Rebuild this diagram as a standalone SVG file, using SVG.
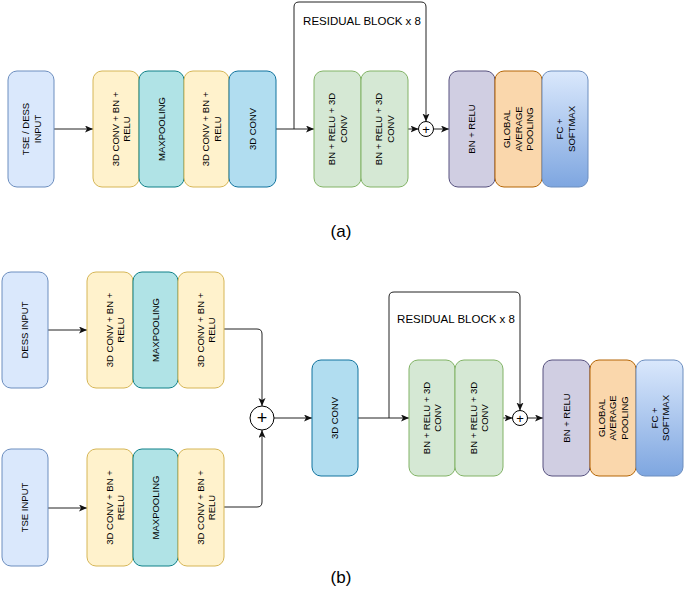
<svg xmlns="http://www.w3.org/2000/svg" width="685" height="590" viewBox="0 0 685 590">
<style>
.t{font-family:"Liberation Sans",Arial,sans-serif;font-size:9.5px;fill:#000;text-anchor:middle}
.lbl{font-family:"Liberation Sans",Arial,sans-serif;fill:#000}
.c{fill:none;stroke:#222;stroke-width:1}
.in{fill:#dae8fc;stroke:#6c8ebf}
.y{fill:#fff2cc;stroke:#d6b656}
.mp{fill:#b0e3e6;stroke:#0e8088}
.cv{fill:#b1ddf0;stroke:#10739e}
.g{fill:#d5e8d4;stroke:#82b366}
.p{fill:#d0cee2;stroke:#56517e}
.o{fill:#fad7ac;stroke:#b46504}
.fc{fill:url(#fcg);stroke:#6c8ebf}
.sum{fill:#fff;stroke:#000;stroke-width:1}
</style>
<defs>
<linearGradient id="fcg" x1="0" y1="0" x2="0" y2="1">
<stop offset="0" stop-color="#dae8fc"/>
<stop offset="1" stop-color="#7ea6e0"/>
</linearGradient>
<marker id="ar" markerUnits="userSpaceOnUse" markerWidth="9" markerHeight="8" refX="8" refY="3.5" orient="auto">
<path d="M0,0 L8,3.5 L0,7 L2,3.5 z" fill="#111"/>
</marker>
</defs>

<g id="connectors">
<path class="c" d="M54,129 H93" marker-end="url(#ar)"/>
<path class="c" d="M276,129 H314" marker-end="url(#ar)"/>
<path class="c" d="M294,129 V7 Q294,2 299,2 H421 Q426,2 426,7 V121.5" marker-end="url(#ar)"/>
<path class="c" d="M408,129 H418.5" marker-end="url(#ar)"/>
<path class="c" d="M433.5,129 H449" marker-end="url(#ar)"/>

<path class="c" d="M48,330 H87" marker-end="url(#ar)"/>
<path class="c" d="M48,508 H87" marker-end="url(#ar)"/>
<path class="c" d="M224,329 H257 Q262,329 262,334 V406" marker-end="url(#ar)"/>
<path class="c" d="M224,507 H257 Q262,507 262,502 V430" marker-end="url(#ar)"/>
<path class="c" d="M274,418 H312" marker-end="url(#ar)"/>
<path class="c" d="M358,418 H409" marker-end="url(#ar)"/>
<path class="c" d="M389,418 V297 Q389,292 394,292 H515 Q520,292 520,297 V410.5" marker-end="url(#ar)"/>
<path class="c" d="M503,418 H512.5" marker-end="url(#ar)"/>
<path class="c" d="M527.5,418 H543" marker-end="url(#ar)"/>
</g>

<!-- (a) -->
<g id="a-input"><rect class="in" x="8" y="71" width="46" height="116" rx="9"/>
<text class="t" transform="translate(31,129) rotate(-90)"><tspan x="0" y="-2.4">TSE / DESS</tspan><tspan x="0" y="9.6">INPUT</tspan></text></g>
<g id="a-conv1"><rect class="y" x="93" y="71" width="46" height="116" rx="9"/>
<text class="t" transform="translate(116,129) rotate(-90)"><tspan x="0" y="2.6">3D CONV + BN +</tspan><tspan x="0" y="14.4">RELU</tspan></text></g>
<g id="a-pool"><rect class="mp" x="139" y="71" width="45" height="116" rx="9"/>
<text class="t" transform="translate(161.5,129) rotate(-90)"><tspan x="0" y="3.4">MAXPOOLING</tspan></text></g>
<g id="a-conv2"><rect class="y" x="184" y="71" width="45" height="116" rx="9"/>
<text class="t" transform="translate(206.5,129) rotate(-90)"><tspan x="0" y="2.6">3D CONV + BN +</tspan><tspan x="0" y="14.4">RELU</tspan></text></g>
<g id="a-conv3"><rect class="cv" x="229" y="71" width="47" height="116" rx="9"/>
<text class="t" transform="translate(252.5,129) rotate(-90)"><tspan x="0" y="3.4">3D CONV</tspan></text></g>
<g id="a-res-label"><text class="lbl" x="362" y="25" font-size="11.5" text-anchor="middle">RESIDUAL BLOCK x 8</text></g>
<g id="a-res1"><rect class="g" x="314" y="71" width="47" height="116" rx="9"/>
<text class="t" transform="translate(337.5,129) rotate(-90)"><tspan x="0" y="-2.4">BN + RELU + 3D</tspan><tspan x="0" y="9.4">CONV</tspan></text></g>
<g id="a-res2"><rect class="g" x="361" y="71" width="47" height="116" rx="9"/>
<text class="t" transform="translate(384.5,129) rotate(-90)"><tspan x="0" y="-2.4">BN + RELU + 3D</tspan><tspan x="0" y="9.4">CONV</tspan></text></g>
<g id="a-sum"><circle class="sum" cx="426" cy="129" r="7.5"/>
<text class="lbl" x="426" y="133.5" font-size="13" text-anchor="middle">+</text></g>
<g id="a-bn"><rect class="p" x="449" y="71" width="46" height="116" rx="9"/>
<text class="t" transform="translate(472,129) rotate(-90)"><tspan x="0" y="3.4">BN + RELU</tspan></text></g>
<g id="a-gap"><rect class="o" x="495" y="71" width="47" height="116" rx="9"/>
<text class="t" transform="translate(518.5,129) rotate(-90)"><tspan x="0" y="-8.1">GLOBAL</tspan><tspan x="0" y="3.4">AVERAGE</tspan><tspan x="0" y="14.9">POOLING</tspan></text></g>
<g id="a-fc"><rect class="fc" x="542" y="71" width="46" height="116" rx="9"/>
<text class="t" transform="translate(565,129) rotate(-90)"><tspan x="0" y="-2">FC +</tspan><tspan x="0" y="9.8">SOFTMAX</tspan></text></g>
<g id="label-a"><text class="lbl" x="341" y="237" font-size="17" text-anchor="middle">(a)</text></g>

<!-- (b) -->
<g id="b-dess"><rect class="in" x="2" y="272" width="46" height="116" rx="9"/>
<text class="t" transform="translate(25,330) rotate(-90)"><tspan x="0" y="3.4">DESS INPUT</tspan></text></g>
<g id="b-d-conv1"><rect class="y" x="87" y="272" width="46" height="116" rx="9"/>
<text class="t" transform="translate(110,330) rotate(-90)"><tspan x="0" y="2.6">3D CONV + BN +</tspan><tspan x="0" y="14.4">RELU</tspan></text></g>
<g id="b-d-pool"><rect class="mp" x="133" y="272" width="45" height="116" rx="9"/>
<text class="t" transform="translate(155.5,330) rotate(-90)"><tspan x="0" y="3.4">MAXPOOLING</tspan></text></g>
<g id="b-d-conv2"><rect class="y" x="178" y="272" width="46" height="116" rx="9"/>
<text class="t" transform="translate(201,330) rotate(-90)"><tspan x="0" y="2.6">3D CONV + BN +</tspan><tspan x="0" y="14.4">RELU</tspan></text></g>

<g id="b-tse"><rect class="in" x="2" y="449" width="46" height="117" rx="9"/>
<text class="t" transform="translate(25,507.5) rotate(-90)"><tspan x="0" y="3.4">TSE  INPUT</tspan></text></g>
<g id="b-t-conv1"><rect class="y" x="87" y="449" width="46" height="117" rx="9"/>
<text class="t" transform="translate(110,507.5) rotate(-90)"><tspan x="0" y="2.6">3D CONV + BN +</tspan><tspan x="0" y="14.4">RELU</tspan></text></g>
<g id="b-t-pool"><rect class="mp" x="133" y="449" width="45" height="117" rx="9"/>
<text class="t" transform="translate(155.5,507.5) rotate(-90)"><tspan x="0" y="3.4">MAXPOOLING</tspan></text></g>
<g id="b-t-conv2"><rect class="y" x="178" y="449" width="46" height="117" rx="9"/>
<text class="t" transform="translate(201,507.5) rotate(-90)"><tspan x="0" y="2.6">3D CONV + BN +</tspan><tspan x="0" y="14.4">RELU</tspan></text></g>

<g id="b-sum1"><circle class="sum" cx="262" cy="418" r="12"/>
<text class="lbl" x="262" y="424" font-size="18" text-anchor="middle">+</text></g>
<g id="b-conv3"><rect class="cv" x="312" y="360" width="46" height="116" rx="9"/>
<text class="t" transform="translate(335,418) rotate(-90)"><tspan x="0" y="3.4">3D CONV</tspan></text></g>
<g id="b-res-label"><text class="lbl" x="456" y="323" font-size="11.5" text-anchor="middle">RESIDUAL BLOCK x 8</text></g>
<g id="b-res1"><rect class="g" x="409" y="360" width="46" height="116" rx="9"/>
<text class="t" transform="translate(432,418) rotate(-90)"><tspan x="0" y="-2.4">BN + RELU + 3D</tspan><tspan x="0" y="9.4">CONV</tspan></text></g>
<g id="b-res2"><rect class="g" x="455" y="360" width="48" height="116" rx="9"/>
<text class="t" transform="translate(479,418) rotate(-90)"><tspan x="0" y="-2.4">BN + RELU + 3D</tspan><tspan x="0" y="9.4">CONV</tspan></text></g>
<g id="b-sum2"><circle class="sum" cx="520" cy="418" r="7.5"/>
<text class="lbl" x="520" y="422.5" font-size="13" text-anchor="middle">+</text></g>
<g id="b-bn"><rect class="p" x="543" y="360" width="47" height="116" rx="9"/>
<text class="t" transform="translate(566.5,418) rotate(-90)"><tspan x="0" y="3.4">BN + RELU</tspan></text></g>
<g id="b-gap"><rect class="o" x="590" y="360" width="46" height="116" rx="9"/>
<text class="t" transform="translate(613,418) rotate(-90)"><tspan x="0" y="-8.1">GLOBAL</tspan><tspan x="0" y="3.4">AVERAGE</tspan><tspan x="0" y="14.9">POOLING</tspan></text></g>
<g id="b-fc"><rect class="fc" x="636" y="360" width="47" height="116" rx="9"/>
<text class="t" transform="translate(659.5,418) rotate(-90)"><tspan x="0" y="-2">FC +</tspan><tspan x="0" y="9.8">SOFTMAX</tspan></text></g>
<g id="label-b"><text class="lbl" x="341" y="583" font-size="17" text-anchor="middle">(b)</text></g>
</svg>
